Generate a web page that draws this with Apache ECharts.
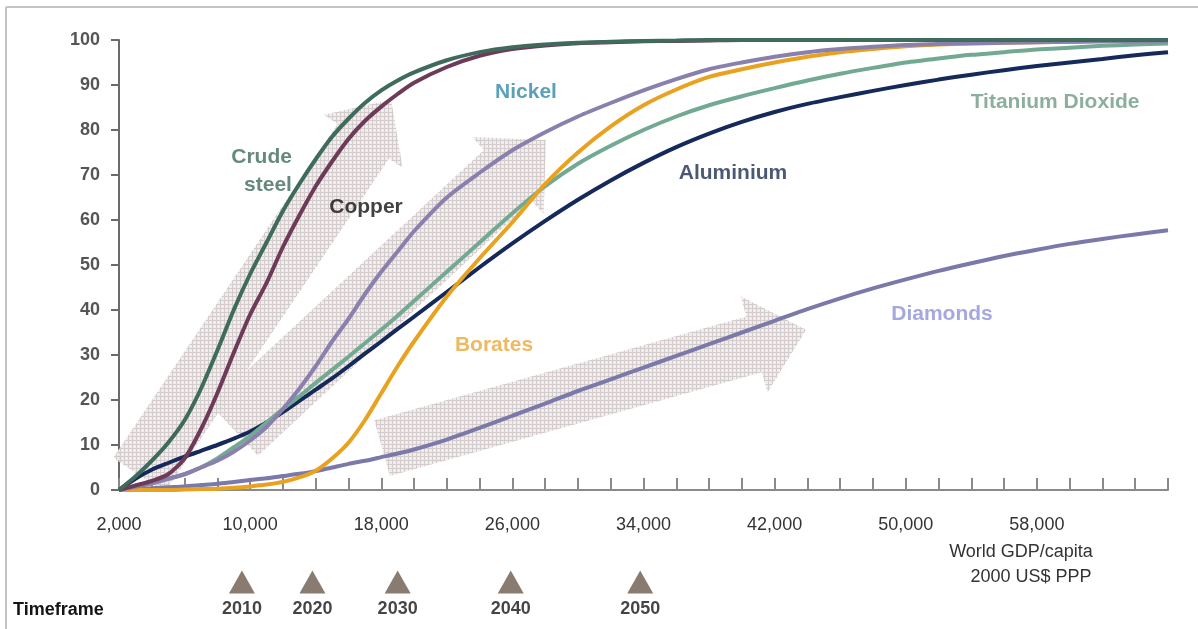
<!DOCTYPE html>
<html>
<head>
<meta charset="utf-8">
<script src="https://cdn.jsdelivr.net/npm/echarts@6/dist/echarts.min.js"></script>
<style>
  html, body { margin: 0; padding: 0; background: #ffffff; }
  #chart { width: 1198px; height: 629px; }
</style>
</head>
<body>
<div id="chart"></div>
<script>
// World GDP per capita (2000 US$ PPP) sample points
const gdp = [2000, 3000, 4000, 5000, 6000, 7000, 8000, 9000, 10000, 11000, 12000, 13000, 14000, 15000,
  16000, 17000, 18000, 19000, 20000, 22000, 24000, 26000, 28000, 30000, 32000, 34000, 36000, 38000,
  40000, 42000, 44000, 46000, 48000, 50000, 52000, 54000, 56000, 58000, 60000, 62000, 64000, 66000];

// Share of saturation level reached (%) for each commodity
const crudeSteel = [0, 3, 6.5, 10.5, 15.5, 22.5, 31, 40, 48, 55, 62, 68, 73.5, 78.5,
  82.5, 86, 88.8, 91, 92.8, 95.5, 97.3, 98.4, 99, 99.4, 99.6, 99.8, 99.9, 100,
  100, 100, 100, 100, 100, 100, 100, 100, 100, 100, 100, 100, 100, 100];
const copper = [0, 1, 2, 3.5, 7, 13.5, 21.5, 30.5, 39, 46, 54, 61, 67.5, 73,
  78, 82, 85.2, 88, 90.5, 94, 96.5, 98, 98.8, 99.3, 99.5, 99.7, 99.8, 99.9,
  100, 100, 100, 100, 100, 100, 100, 100, 100, 100, 100, 100, 100, 100];
const nickel = [0, 0.7, 1.5, 2.5, 3.5, 5, 6.5, 8.5, 11, 14, 18, 22.5, 27.5, 33,
  38, 43.5, 48.5, 53, 57.5, 65, 70.5, 75.5, 79.5, 83, 86, 88.8, 91.3, 93.5,
  95, 96.3, 97.3, 98, 98.5, 98.9, 99.1, 99.3, 99.4, 99.5, 99.6, 99.7, 99.7, 99.8];
const titaniumDioxide = [0, 0.8, 1.5, 2.5, 3.5, 5, 7, 9.5, 12, 15, 18, 20.8, 23.8, 26.7,
  29.6, 32.6, 35.6, 38.7, 42, 48.5, 55, 61.5, 67.5, 72.5, 76.5, 80, 83, 85.5,
  87.5, 89.3, 91, 92.5, 93.8, 95, 95.9, 96.7, 97.3, 97.9, 98.3, 98.7, 99, 99.2];
const aluminium = [0, 2.5, 4.5, 6, 7.4, 8.7, 10, 11.4, 13, 15, 17.3, 19.8, 22.3, 24.8,
  27.5, 30.3, 33, 35.8, 38.5, 44, 49.5, 54.8, 59.8, 64.5, 68.8, 72.7, 76.2, 79.2,
  81.8, 84, 85.8, 87.3, 88.7, 90, 91.2, 92.3, 93.3, 94.2, 95, 95.8, 96.6, 97.3];
const borates = [0, 0, 0, 0, 0.1, 0.2, 0.3, 0.5, 0.8, 1.2, 1.8, 2.8, 4.3, 7,
  10.5, 15.5, 21.5, 27.5, 33, 43, 51.5, 59.5, 68, 75, 80.8, 85.5, 89, 91.8,
  93.5, 95, 96.3, 97.3, 98, 98.6, 99, 99.2, 99.4, 99.5, 99.6, 99.7, 99.8, 99.8];
const diamonds = [0, 0.2, 0.4, 0.6, 0.8, 1.1, 1.4, 1.8, 2.2, 2.6, 3.1, 3.6, 4.2, 5,
  5.8, 6.5, 7.3, 8.1, 9, 11.2, 13.8, 16.5, 19.2, 22, 24.6, 27.2, 29.8, 32.4,
  35, 37.6, 40.2, 42.6, 44.8, 46.8, 48.7, 50.4, 52, 53.4, 54.7, 55.8, 56.8, 57.7];

// Labelled x-axis values
const xTickLabels = [2000, 10000, 18000, 26000, 34000, 42000, 50000, 58000];

// Timeframe markers: calendar year against the GDP/capita expected then
const timeframeYears = ['2010', '2020', '2030', '2040', '2050'];
const timeframeGdp = [9500, 13800, 19000, 25900, 33800];

// Series names (drawing order) and where their names are written (GDP, %)
const seriesNames = ['Diamonds', 'Aluminium', 'Titanium Dioxide', 'Borates', 'Nickel', 'Copper', 'Crude steel'];
const labelTexts = ['Diamonds', 'Aluminium', 'Titanium Dioxide', 'Borates', 'Nickel', 'Copper', 'Crude\nsteel'];
const labelGdp = [52210, 39460, 59110, 24880, 26830, 17070, 12550];
const labelPct = [39.1, 70.4, 86.2, 32.2, 88.4, 62.9, 70.9];

// Broad trend arrows (start GDP, start %, tip GDP, tip %)
const trendArrows = [
  [3220, 3.3, 18600, 86.7],
  [9020, 13.3, 28050, 77.8],
  [18050, 9.3, 43920, 35.6]
];

const seriesValues = [diamonds, aluminium, titaniumDioxide, borates, nickel, copper, crudeSteel];
const lineColors = ['#7b78aa', '#15295a', '#72a993', '#e9a21f', '#8a80ae', '#6d3a57', '#3f6b5d'];
const labelColors = ['#8f91d8', '#1d2d52', '#6f9a84', '#eaa73a', '#2f88a8', '#111111', '#3f6b5d'];
// arrow shape sizes in px: shaft width, head width, head length
const arrowShapes = [
  { shaft: 62, width: 95, head: 50 },
  { shaft: 70, width: 105, head: 52 },
  { shaft: 58, width: 100, head: 54 }
];

function hatchTile() {
  const c = document.createElement('canvas');
  c.width = 4; c.height = 4;
  const g = c.getContext('2d');
  g.fillStyle = '#f0ecec';
  g.fillRect(0, 0, 4, 4);
  g.fillStyle = '#d2caca';
  g.fillRect(0, 0, 4, 1);
  g.fillRect(0, 0, 1, 4);
  return c;
}
const hatch = hatchTile();

function fmtThousands(v) {
  return String(v).replace(/\B(?=(\d{3})+(?!\d))/g, ',');
}

const chart = echarts.init(document.getElementById('chart'), null, { renderer: 'canvas' });

const lineSeries = seriesNames.map((name, i) => ({
  name: name,
  type: 'line',
  xAxisIndex: 0,
  yAxisIndex: 0,
  data: gdp.map((x, k) => [x, seriesValues[i][k]]),
  smooth: 0.25,
  showSymbol: false,
  lineStyle: { color: lineColors[i], width: 4 },
  z: 3,
  silent: true
}));

const option = {
  animation: false,
  backgroundColor: '#ffffff',
  textStyle: { fontFamily: 'Liberation Sans, Arial, sans-serif' },
  grid: [
    { left: 119, right: 30, top: 40, bottom: 139 },
    { left: 119, right: 30, top: 568, height: 28 }
  ],
  xAxis: [
    {
      gridIndex: 0,
      type: 'value',
      min: 2000,
      max: 66000,
      interval: 2000,
      axisLine: { show: true, lineStyle: { color: '#8a8a8a', width: 2 } },
      axisTick: { show: true, inside: true, length: 12, lineStyle: { color: '#8a8a8a', width: 2 } },
      splitLine: { show: false },
      axisLabel: {
        margin: 26,
        color: '#333333',
        fontSize: 18,
        fontFamily: 'Liberation Sans, Arial, sans-serif',
        formatter: v => (xTickLabels.indexOf(v) >= 0 ? fmtThousands(v) : '')
      }
    },
    {
      gridIndex: 1,
      type: 'value',
      min: 2000,
      max: 66000,
      show: false
    }
  ],
  yAxis: [
    {
      gridIndex: 0,
      type: 'value',
      min: 0,
      max: 100,
      interval: 10,
      axisLine: { show: true, lineStyle: { color: '#6a6a6a', width: 2 } },
      axisTick: { show: true, inside: false, length: 8, lineStyle: { color: '#6a6a6a', width: 2 } },
      splitLine: { show: false },
      axisLabel: {
        margin: 19,
        color: '#555555',
        fontSize: 18,
        fontWeight: 'bold',
        fontFamily: 'Liberation Sans, Arial, sans-serif'
      }
    },
    {
      gridIndex: 1,
      type: 'value',
      min: 0,
      max: 1,
      show: false
    }
  ],
  series: [
    {
      name: 'Trend',
      type: 'custom',
      xAxisIndex: 0,
      yAxisIndex: 0,
      clip: false,
      silent: true,
      z: 1,
      encode: { x: [0, 2], y: [1, 3] },
      data: trendArrows,
      renderItem: (params, api) => {
        const a = api.coord([api.value(0), api.value(1)]);
        const b = api.coord([api.value(2), api.value(3)]);
        const s = arrowShapes[params.dataIndex];
        const dx = b[0] - a[0], dy = b[1] - a[1];
        const len = Math.hypot(dx, dy);
        const ux = dx / len, uy = dy / len;
        const nx = -uy, ny = ux;
        const bx = b[0] - ux * s.head, by = b[1] - uy * s.head;
        const sw = s.shaft / 2, hw = s.width / 2;
        const pts = [
          [a[0] + nx * sw, a[1] + ny * sw],
          [bx + nx * sw, by + ny * sw],
          [bx + nx * hw, by + ny * hw],
          [b[0], b[1]],
          [bx - nx * hw, by - ny * hw],
          [bx - nx * sw, by - ny * sw],
          [a[0] - nx * sw, a[1] - ny * sw]
        ];
        return {
          type: 'polygon',
          shape: { points: pts },
          style: { fill: { image: hatch, repeat: 'repeat' }, opacity: 0.95 }
        };
      }
    },
    ...lineSeries,
    {
      name: 'Names',
      type: 'scatter',
      xAxisIndex: 0,
      yAxisIndex: 0,
      symbolSize: 0,
      silent: true,
      z: 6,
      data: labelTexts.map((t, i) => ({
        value: [labelGdp[i], labelPct[i]],
        label: {
          show: true,
          position: 'inside',
          formatter: t,
          color: labelColors[i],
          fontSize: 21,
          fontWeight: 'bold',
          lineHeight: 28,
          align: t.indexOf('\n') >= 0 ? 'right' : 'center',
          fontFamily: 'Liberation Sans, Arial, sans-serif'
        }
      }))
    },
    {
      name: 'Timeframe',
      type: 'scatter',
      xAxisIndex: 1,
      yAxisIndex: 1,
      symbol: 'triangle',
      symbolSize: [26, 23],
      silent: true,
      itemStyle: { color: '#6b5a4b' },
      data: timeframeGdp.map((x, i) => ({
        value: [x, 0.5],
        label: {
          show: true,
          position: 'bottom',
          distance: 7,
          formatter: timeframeYears[i],
          color: '#151515',
          fontSize: 18,
          fontWeight: 'bold',
          fontFamily: 'Liberation Sans, Arial, sans-serif'
        }
      }))
    }
  ],
  graphic: [
    { type: 'line', shape: { x1: 6, y1: 7, x2: 1198, y2: 7 }, style: { stroke: '#c4c4c4', lineWidth: 2 }, silent: true },
    { type: 'line', shape: { x1: 6, y1: 7, x2: 6, y2: 629 }, style: { stroke: '#c4c4c4', lineWidth: 2 }, silent: true },
    {
      type: 'text', left: 13, top: 601,
      style: { text: 'Timeframe', fill: '#151515', font: 'bold 18px "Liberation Sans", Arial, sans-serif' }
    },
    {
      type: 'text', x: 1021, y: 552,
      style: { text: 'World GDP/capita', fill: '#333333', align: 'center', verticalAlign: 'middle',
        font: '18px "Liberation Sans", Arial, sans-serif' }
    },
    {
      type: 'text', x: 1031, y: 577,
      style: { text: '2000 US$ PPP', fill: '#333333', align: 'center', verticalAlign: 'middle',
        font: '18px "Liberation Sans", Arial, sans-serif' }
    }
  ]
};

chart.setOption(option);
</script>
</body>
</html>
